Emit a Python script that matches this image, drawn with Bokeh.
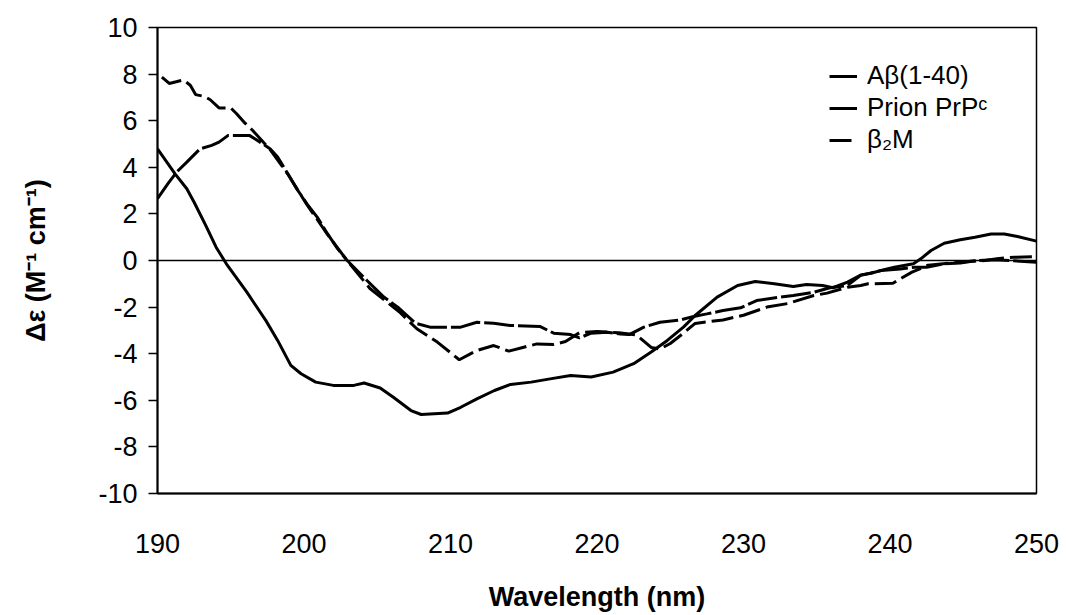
from bokeh.plotting import figure
from bokeh.models import Span, Legend, LegendItem, FixedTicker
from bokeh.embed import file_html
from bokeh.resources import INLINE

# CD spectra: wavelength (nm) and molar ellipticity difference (M^-1 cm^-1)
wl_abeta = [190.0, 191.2, 192.0, 192.5, 193.3, 194.0, 194.7, 196.1, 197.4, 198.2,
            199.1, 199.8, 200.8, 202.0, 203.4, 204.1, 205.2, 206.1, 207.3, 208.0,
            209.8, 210.7, 211.8, 213.0, 214.1, 215.5, 216.8, 218.2, 219.6, 221.1,
            222.5, 223.7, 224.8, 225.9, 226.7, 228.2, 229.6, 230.8, 232.1, 233.4,
            234.3, 235.4, 236.1, 237.1, 238.0, 238.7, 239.8, 240.3, 241.6, 242.1,
            242.8, 243.7, 244.8, 245.8, 246.9, 247.8, 248.7, 250.0]
de_abeta = [4.79, 3.72, 3.08, 2.50, 1.50, 0.57, -0.14, -1.36, -2.58, -3.43,
            -4.50, -4.86, -5.22, -5.36, -5.36, -5.26, -5.47, -5.87, -6.44, -6.61,
            -6.55, -6.30, -5.94, -5.58, -5.32, -5.22, -5.08, -4.94, -5.00, -4.79,
            -4.43, -3.93, -3.43, -2.86, -2.36, -1.57, -1.07, -0.90, -1.00, -1.12,
            -1.03, -1.07, -1.17, -0.93, -0.62, -0.55, -0.36, -0.29, -0.14, 0.07,
            0.43, 0.74, 0.89, 1.00, 1.14, 1.14, 1.03, 0.83]

wl_prion = [190.0, 190.7, 191.3, 192.0, 192.9, 193.7, 194.2, 194.8, 196.3, 197.0,
            197.7, 198.2, 198.9, 199.5, 200.2, 200.9, 201.6, 202.3, 202.95, 204.3,
            205.45, 206.4, 207.6, 208.6, 210.7, 211.8, 212.95, 214.1, 216.1, 217.05,
            218.2, 218.8, 219.6, 220.7, 221.6, 222.2, 223.2, 224.3, 225.7, 226.6,
            227.5, 228.6, 229.8, 230.9, 232.5, 233.4, 234.8, 235.9, 237.1, 238.0,
            239.4, 240.7, 241.7, 242.5, 243.7, 244.8, 245.9, 247.1, 248.2, 250.0]
de_prion = [2.65, 3.29, 3.79, 4.22, 4.79, 4.94, 5.08, 5.36, 5.36, 5.08,
            4.79, 4.44, 3.72, 3.08, 2.43, 1.86, 1.15, 0.50, 0.00, -0.86,
            -1.57, -2.00, -2.69, -2.86, -2.86, -2.65, -2.69, -2.79, -2.83, -3.12,
            -3.18, -3.32, -3.12, -3.08, -3.15, -3.18, -2.86, -2.65, -2.55, -2.40,
            -2.29, -2.15, -2.03, -1.72, -1.57, -1.50, -1.36, -1.17, -1.07, -0.64,
            -0.43, -0.36, -0.29, -0.29, -0.14, -0.11, 0.00, 0.03, 0.00, -0.08]

wl_b2m = [190.3, 190.8, 191.8, 192.25, 192.6, 193.2, 193.6, 194.2, 195.0, 195.4,
          195.9, 196.5, 197.7, 198.9, 200.2, 201.6, 203.0, 204.5, 205.5, 206.5,
          207.7, 209.1, 210.6, 211.8, 212.95, 213.98, 215.0, 215.9, 217.05, 217.85,
          218.8, 220.0, 221.5, 222.7, 223.7, 224.3, 225.0, 225.7, 226.7, 228.6,
          230.0, 231.6, 233.0, 234.8, 235.7, 237.1, 238.0, 238.5, 240.2, 240.8,
          241.5, 242.6, 244.0, 245.5, 246.5, 247.3, 248.5, 250.0]
de_b2m = [7.87, 7.60, 7.75, 7.51, 7.12, 7.04, 6.90, 6.55, 6.55, 6.30,
          5.94, 5.58, 4.75, 3.70, 2.40, 1.12, -0.05, -1.20, -1.70, -2.20,
          -2.93, -3.50, -4.26, -3.86, -3.65, -3.89, -3.72, -3.58, -3.60, -3.48,
          -3.10, -3.05, -3.10, -3.20, -3.73, -3.80, -3.56, -3.22, -2.70, -2.55,
          -2.35, -2.00, -1.85, -1.50, -1.40, -1.15, -1.07, -1.00, -0.98, -0.75,
          -0.50, -0.20, -0.12, -0.03, 0.00, 0.08, 0.14, 0.17]

x_ticks = [190, 200, 210, 220, 230, 240, 250]
y_ticks = [-10, -8, -6, -4, -2, 0, 2, 4, 6, 8, 10]

series_labels = ["A\u03b2(1-40)", "Prion PrP\u1d9c", "\u03b2\u2082M"]

FONT = "Liberation Sans"

p = figure(width=1066, height=615, x_range=(190, 250), y_range=(-10, 10),
           output_backend="svg", toolbar_location=None,
           min_border_left=157, min_border_right=30,
           min_border_top=27, min_border_bottom=122)

p.xgrid.visible = False
p.ygrid.visible = False
p.background_fill_color = "white"
p.border_fill_color = "white"
p.outline_line_color = "black"
p.outline_line_width = 1.5

# axes
p.xaxis.ticker = FixedTicker(ticks=x_ticks)
p.yaxis.ticker = FixedTicker(ticks=y_ticks)
p.yaxis.major_label_overrides = {t: str(t) for t in y_ticks}
for ax in (p.xaxis[0], p.yaxis[0]):
    ax.axis_line_color = "black"
    ax.axis_line_width = 2
    ax.major_tick_line_color = "black"
    ax.major_tick_line_width = 1.5
    ax.minor_tick_line_color = None
    ax.major_label_text_font = FONT
    ax.major_label_text_font_size = "27px"
    ax.major_label_text_color = "black"
    ax.axis_label_text_font = FONT
    ax.axis_label_text_font_size = "27px"
    ax.axis_label_text_font_style = "bold"
    ax.axis_label_text_color = "black"

p.xaxis.major_tick_out = 0
p.xaxis.major_tick_in = 0
p.xaxis.major_label_standoff = 40
p.xaxis.axis_label = "Wavelength (nm)"
p.xaxis.axis_label_standoff = 26

p.yaxis.major_tick_out = 9
p.yaxis.major_tick_in = 0
p.yaxis.major_label_standoff = 11
p.yaxis.axis_label = "\u0394\u03b5 (M\u207b\u00b9 cm\u207b\u00b9)"
p.yaxis.axis_label_standoff = 44

# zero baseline
p.add_layout(Span(location=0, dimension="width", line_color="black", line_width=1.5))

r_abeta = p.line(wl_abeta, de_abeta, line_color="black", line_width=3)
r_prion = p.line(wl_prion, de_prion, line_color="black", line_width=3,
                 line_dash="30 4")
r_b2m = p.line(wl_b2m, de_b2m, line_color="black", line_width=3,
               line_dash="22 6")

legend = Legend(
    items=[LegendItem(label=series_labels[0], renderers=[r_abeta]),
           LegendItem(label=series_labels[1], renderers=[r_prion]),
           LegendItem(label=series_labels[2], renderers=[r_b2m])],
    location=(672, 338),
    background_fill_alpha=0, border_line_alpha=0,
    glyph_width=28, glyph_height=28, label_height=28,
    spacing=1, padding=0, margin=0, label_standoff=10,
    label_text_font=FONT, label_text_font_size="26px",
    label_text_color="black",
)
p.add_layout(legend)

open("out.html", "w").write(file_html(p, INLINE))
